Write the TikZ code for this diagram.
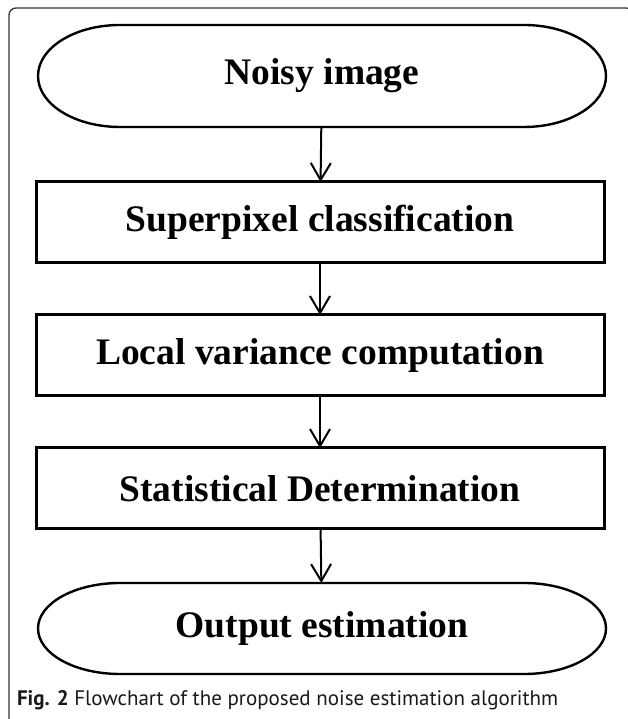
\documentclass[tikz,border=0pt]{standalone}
\usepackage{fontspec}
\setmainfont{Liberation Serif}
\newfontfamily\capfont{PT Sans}
\usetikzlibrary{arrows.meta}

% Elliptic-ended outline around a (borderless) node: #1 node name, #2 half height
\newcommand\pilloutline[2]{%
  \draw[pillline] ([xshift=82pt]#1.north west) -- ([xshift=-82pt]#1.north east)
    arc[start angle=90,end angle=-90,x radius=82pt,y radius=#2]
    -- ([xshift=82pt]#1.south west)
    arc[start angle=270,end angle=90,x radius=82pt,y radius=#2] -- cycle;}

\begin{document}
\begin{tikzpicture}[x=1pt,y=1pt,
  every node/.style={inner sep=0pt,outer sep=0pt},
  stepbox/.style={draw=black,line width=3pt,minimum width=568pt,minimum height=81pt,
    font=\fontsize{37.5}{40}\selectfont\bfseries},
  terminal/.style={minimum width=568pt,font=\fontsize{37.5}{40}\selectfont\bfseries},
  pillline/.style={draw=black,line width=2.4pt},
  flow/.style={draw=black,line width=2pt,-{Straight Barb[length=17pt,width=20pt]}},
  frameline/.style={draw=black!80,line width=1.3pt,rounded corners=7pt}]

  \useasboundingbox (0,0) rectangle (627,719);

  % figure frame, open past the right and bottom edges
  \draw[frameline] (9,-8) rectangle (633,711);

  % flowchart steps
  \node[terminal,minimum height=102pt] (start) at (322,643) {Noisy image};
  \node[stepbox] (classify) at (320,496.5) {Superpixel classification};
  \node[stepbox] (variance) at (320,363.5) {Local variance computation};
  \node[stepbox] (decide)   at (320,230.5) {Statistical Determination};
  \node[terminal,minimum height=91pt] (finish) at (322,90.5) {Output estimation};

  \pilloutline{start}{51pt}
  \pilloutline{finish}{45.5pt}

  % connectors
  \draw[flow] (start) -- (classify);
  \draw[flow] (classify) -- (variance);
  \draw[flow] (variance) -- (decide);
  \draw[flow] (decide) -- (finish);

  % caption
  \node[anchor=west,text=black!90,font=\capfont\fontsize{21}{24}\selectfont] (caption) at (17,19)
    {\textbf{Fig. 2} Flowchart of the proposed noise estimation algorithm};
\end{tikzpicture}
\end{document}
